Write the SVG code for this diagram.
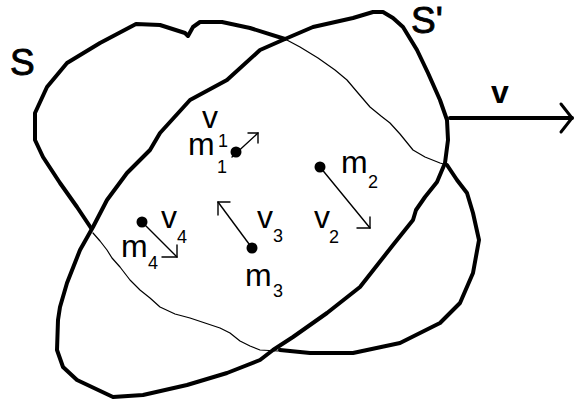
<svg xmlns="http://www.w3.org/2000/svg" width="574" height="402" viewBox="0 0 574 402">
<style>
.thick{fill:none;stroke:#000;stroke-width:4;stroke-linejoin:round;stroke-linecap:round}
.thin{fill:none;stroke:#000;stroke-width:1.2;stroke-linejoin:round;stroke-linecap:round}
.vec{fill:none;stroke:#000;stroke-width:1.4;stroke-linecap:round;stroke-linejoin:miter}
.big{font-family:"Liberation Sans",Arial,sans-serif;font-size:37px;fill:#000;stroke:#000;stroke-width:0.9}
.lbl{font-family:"Liberation Sans",Arial,sans-serif;font-size:32px;fill:#000}
.sub{font-family:"Liberation Sans",Arial,sans-serif;font-size:18px;fill:#000}
.dot{fill:#000}
</style>
<rect width="574" height="402" fill="#fff"/>
<g id="S">
<polyline class="thick" points="91,228 77,207 60,183 43,157 35,140 35,113 47,87 67,63 100,43 136,24 160,25 185,33 188,36 193,27 200,22 222,22 250,28 285,39"/>
<polyline class="thin" points="285,39 300,47 318,58 335,70 347,80 358,93 370,107 381,116 390,123 400,134 413,150 425,157 440,163 447,165"/>
<polyline class="thick" points="447,165 457,180 467,193 473,213 479,240 473,273 460,303 440,323 400,343 353,353 310,353 280,350"/>
<polyline class="thin" points="278,351 260,350 250,346 240,341 230,333 220,328 205,323 190,318 175,314 160,307 150,298 140,290 130,280 120,267 112,258 107,250 100,241 93,233"/>
<text class="big" x="10" y="75">S</text>
</g>
<g id="S-prime">
<polygon class="thick" points="285,39 313,27 353,18 373,12 383,12 393,18 403,27 417,50 428,73 440,100 447,120 448,140 445,163 437,182 425,197 416,210 413,220 393,245 360,287 327,313 293,337 273,350 260,360 227,373 187,385 143,395 113,397 77,380 63,367 57,350 58,320 60,307 67,283 80,250 93,227 107,200 127,173 150,150 160,133 190,100 227,80 260,50"/>
<text class="big" x="411" y="33">S'</text>
</g>
<g id="velocity">
<line class="thick" x1="450" y1="118" x2="572" y2="118"/>
<polyline class="thick" style="stroke-width:3" points="561,104 572,118 561,132"/>
<text class="lbl" style="font-weight:bold" x="491" y="103">v</text>
</g>
<g id="m1">
<circle class="dot" cx="236" cy="152" r="5.5"/>
<text class="lbl" x="188" y="155">m</text><text class="sub" x="217" y="173">1</text>
<text class="lbl" x="202" y="128">v</text><text class="sub" x="218" y="147">1</text>
</g>
<g id="m2">
<circle class="dot" cx="320" cy="167" r="5.5"/>
<text class="lbl" x="341" y="173">m</text><text class="sub" x="368" y="188">2</text>
<text class="lbl" x="314" y="228">v</text><text class="sub" x="329" y="243">2</text>
</g>
<g id="m3">
<circle class="dot" cx="252" cy="248" r="5.5"/>
<text class="lbl" x="245" y="286">m</text><text class="sub" x="273" y="297">3</text>
<text class="lbl" x="257" y="228">v</text><text class="sub" x="273" y="242">3</text>
</g>
<g id="m4">
<circle class="dot" cx="142" cy="222" r="5.5"/>
<text class="lbl" x="121" y="257">m</text><text class="sub" x="148" y="269">4</text>
<text class="lbl" x="161" y="228">v</text><text class="sub" x="177" y="243">4</text>
</g>
<g id="connectors">
<line class="vec" x1="232" y1="157" x2="258" y2="133"/>
<polyline class="vec" points="248,133 258,133 258,143"/>
<line class="vec" x1="320" y1="167" x2="370" y2="228"/>
<polyline class="vec" points="357,228 370,228 370,217"/>
<line class="vec" x1="252" y1="248" x2="218" y2="202"/>
<polyline class="vec" points="230,202 218,202 218,215"/>
<line class="vec" x1="142" y1="222" x2="177" y2="257"/>
<polyline class="vec" points="162,257 177,257 177,245"/>
</g>
</svg>
